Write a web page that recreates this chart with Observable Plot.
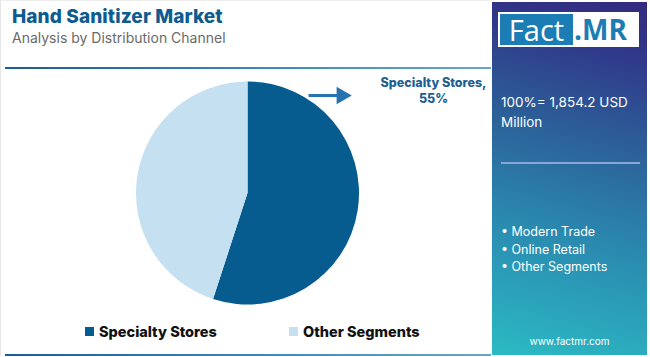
<!DOCTYPE html>
<html>
<head>
<meta charset="utf-8">
<script src="https://cdn.jsdelivr.net/npm/d3@7"></script>
<script src="https://cdn.jsdelivr.net/npm/@observablehq/plot@0.6"></script>
<style>
  html, body { margin: 0; padding: 0; background: #fff; }
  body { width: 650px; height: 357px; position: relative; overflow: hidden; font-family: Inter, "Open Sans", sans-serif; }
  #frame { position: absolute; left: 0; top: 0; width: 490px; height: 356px; border-left: 1px solid #e6e6e6; border-top: 1px solid #eeeeee; box-sizing: border-box; }
  #title { position: absolute; left: 12px; top: 5px; font-size: 19px; font-weight: 800; color: #0d5b8f; letter-spacing: 0.1px; }
  #subtitle { position: absolute; left: 12px; top: 29px; font-size: 14px; color: #6a6a6a; }
  .rule { position: absolute; left: 5px; width: 486px; height: 2px; background: linear-gradient(to right, #1d5c92, #3f8fc0 60%, #6aa6c8); }
  #chart { position: absolute; left: 0; top: 70px; }
  #legend { position: absolute; top: 323px; left: 0; width: 490px; font-size: 14.5px; font-weight: 800; color: #111; }
  .item { position: absolute; display: flex; align-items: center; }
  .sw { width: 9px; height: 9px; margin-right: 5px; }
  #panel { position: absolute; left: 492px; top: 2px; width: 155px; height: 353px;
    background: linear-gradient(15deg, #2cbac4 0%, #2a8ab0 35%, #2c5f98 62%, #30398a 85%, #342a7e 100%); color: #fff; }
  #logo { position: absolute; left: 6px; top: 10px; width: 141px; height: 35px; background: #fff; }
  #logo .fact { position: absolute; left: 2px; top: 2px; width: 73px; height: 31px; background: #1b7db3; color: #fff; font-family: "Open Sans", sans-serif; font-size: 29px; line-height: 31px; text-align: center; }
  #logo .mr { position: absolute; left: 76px; top: 1px; color: #1b7db3; font-family: "Open Sans", sans-serif; font-weight: 700; font-size: 28px; line-height: 33px; }
  #total { position: absolute; left: 9px; top: 90px; font-size: 13.5px; line-height: 20px; }
  #sep { position: absolute; left: 9px; top: 160px; width: 139px; height: 2px; background: #8aa6d6; }
  #segs { position: absolute; left: 9px; top: 221px; font-size: 12.5px; line-height: 17.5px; }
  #url { position: absolute; left: 0; width: 155px; top: 333px; text-align: center; font-size: 10px; }
</style>
</head>
<body>
<div id="frame"></div>
<div id="title">Hand Sanitizer Market</div>
<div id="subtitle">Analysis by Distribution Channel</div>
<div class="rule" style="top:67px"></div>
<div id="chart"></div>
<div id="legend"></div>
<div class="rule" style="top:354px"></div>
<div id="panel">
  <div id="logo"><div class="fact">Fact</div><div class="mr">.MR</div></div>
  <div id="total">100%= 1,854.2 USD<br>Million</div>
  <div id="sep"></div>
  <div id="segs">• Modern Trade<br>• Online Retail<br>• Other Segments</div>
  <div id="url">www.factmr.com</div>
</div>
<script>
// ---- data ----
const categories = ["Specialty Stores", "Other Segments"];
const shares = [55, 45];
const colors = ["#065b8f", "#c5e1f1"];
const calloutLabel = ["Specialty Stores,", "55%"];

const pieData = categories.map((name, i) => ({name, value: shares[i]}));

// pie drawn via Plot scales: x/y in unit-circle coordinates
function pieMark(index, scales) {
  const x = scales.x, y = scales.y, color = scales.color;
  const cx = x(0), cy = y(0);
  const r = (x(1) - x(-1)) / 2;
  const arcs = d3.pie().sort(null).value(d => d.value)(pieData);
  const arc = d3.arc().innerRadius(0).outerRadius(r);
  const g = d3.create("svg:g").attr("transform", `translate(${cx},${cy})`);
  g.selectAll("path").data(arcs).join("path")
    .attr("d", arc)
    .attr("fill", d => color ? color(d.data.name) : colors[categories.indexOf(d.data.name)]);
  return g.node();
}

const chart = Plot.plot({
  width: 490,
  height: 250,
  marginLeft: 136, marginRight: 131,
  marginTop: 11.5, marginBottom: 15.5,
  x: {domain: [-1, 1], axis: null},
  y: {domain: [-1, 1], axis: null},
  color: {domain: categories, range: colors},
  style: {background: "transparent", overflow: "visible"},
  marks: [
    Plot.dot(pieData, {x: 0, y: 0, fill: "name", r: 0.001, fillOpacity: 0}),
    pieMark,
    Plot.link([{x1: 0.543, x2: 0.82, y: 0.879}], {
      x1: "x1", x2: "x2", y1: "y", y2: "y", stroke: "#2673ad", strokeWidth: 3
    }),
    Plot.dot([{x: 0.84, y: 0.879}], {
      x: "x", y: "y", symbol: "triangle", rotate: 90, r: 6.5, fill: "#2673ad", stroke: "none"
    }),
    Plot.text([calloutLabel.join("\n")], {
      x: 1.664, y: 1.06, text: d => d, lineAnchor: "top", lineHeight: 1.28,
      fill: "#1c5f93", fontWeight: 800, fontSize: 12.5, fontFamily: "Inter, sans-serif"
    })
  ]
});
document.getElementById("chart").appendChild(chart);

// legend
const legend = document.getElementById("legend");
const legendX = [85, 289];
categories.forEach((c, i) => {
  const item = document.createElement("div");
  item.className = "item";
  item.style.left = legendX[i] + "px";
  item.innerHTML = `<span class="sw" style="background:${colors[i]}"></span><span>${c}</span>`;
  legend.appendChild(item);
});
</script>
</body>
</html>
